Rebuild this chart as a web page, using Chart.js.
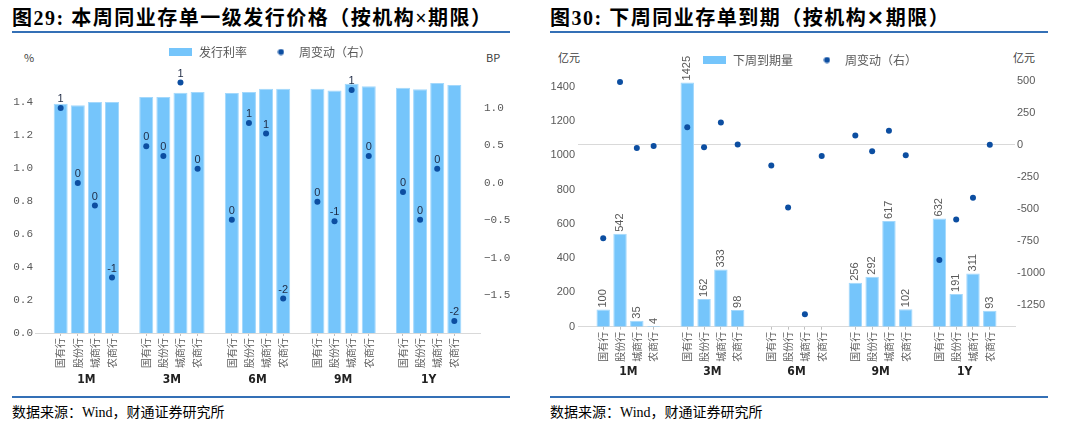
<!DOCTYPE html>
<html>
<head>
<meta charset="utf-8">
<script src="https://cdn.jsdelivr.net/npm/chart.js@4.4.1/dist/chart.umd.min.js"></script>
<style>
  body { margin: 0; width: 1080px; height: 435px; background: #fff; position: relative; overflow: hidden; }
  .title { position: absolute; top: 6px; line-height: 24px; font-family: "Liberation Serif", "Noto Sans CJK SC", serif; font-weight: 700; font-size: 20px; color: #000; letter-spacing: 1.5px; white-space: nowrap; }
  .rule { position: absolute; height: 2px; background: #3470b6; }
  .src { position: absolute; top: 404px; line-height: 18px; font-family: "Liberation Serif", "Noto Sans CJK SC", serif; font-size: 14px; color: #000; white-space: nowrap; }
  .unit { position: absolute; top: 50px; line-height: 14px; font-family: "Noto Sans CJK SC", sans-serif; font-size: 11px; color: #404040; }
  canvas { position: absolute; top: 20px; }
</style>
</head>
<body>
<div class="title" style="left:12px">图29: 本周同业存单一级发行价格（按机构×期限）</div>
<div class="rule" style="left:12px;width:498px;top:31px"></div>
<div class="title" style="left:550px">图30: 下周同业存单到期（按机构✕期限）</div>
<div class="rule" style="left:550px;width:498px;top:31px"></div>

<div class="unit" style="left:24px">%</div>
<div class="unit" style="left:486px">BP</div>
<div class="unit" style="left:558px">亿元</div>
<div class="unit" style="left:1013px">亿元</div>

<canvas id="rateChart" width="540" height="376" style="left:0px"></canvas>
<canvas id="maturityChart" width="540" height="376" style="left:540px"></canvas>

<div class="rule" style="left:12px;width:498px;top:396px"></div>
<div class="src" style="left:12px">数据来源：Wind，财通证券研究所</div>
<div class="rule" style="left:550px;width:498px;top:396px"></div>
<div class="src" style="left:550px">数据来源：Wind，财通证券研究所</div>

<script>
const groups = ['1M', '3M', '6M', '9M', '1Y'];
const banks = ['国有行', '股份行', '城商行', '农商行'];

// 图29 发行利率(%) 和 周变动(BP)
const issueRate = [1.39, 1.38, 1.40, 1.40, 1.43, 1.43, 1.456, 1.46, 1.455, 1.46, 1.48, 1.48, 1.48, 1.47, 1.51, 1.495, 1.487, 1.477, 1.515, 1.503];
const rateChange = [1.0, 0.0, -0.3, -1.26, 0.49, 0.36, 1.34, 0.19, -0.49, 0.8, 0.66, -1.54, -0.25, -0.51, 1.24, 0.36, -0.12, -0.49, 0.19, -1.84];
const rateTicks = [0, 0.2, 0.4, 0.6, 0.8, 1.0, 1.2, 1.4];
const bpTicks = [-1.5, -1.0, -0.5, 0, 0.5, 1.0];

// 图30 下周到期量(亿元) 和 周变动(亿元)
const maturity = [100, 542, 35, 4, 1425, 162, 333, 98, null, null, null, null, 256, 292, 617, 102, 632, 191, 311, 93];
const maturityChange = [-730, 489, -26, -11, 137, -19, 173, 2, -163, -489, -1323, -88, 72, -52, 109, -83, -900, -583, -414, 0];
const amountTicks = [0, 200, 400, 600, 800, 1000, 1200, 1400];
const changeTicks = [-1250, -1000, -750, -500, -250, 0, 250, 500];

const BAR = '#75c5fb';
const DOT = '#0c4ea1';
const GREY = '#595959';

Chart.defaults.font.family = '"Noto Sans CJK SC", sans-serif';
Chart.defaults.color = GREY;

// one empty slot before, between and after the groups
function slots(vals) {
  const out = [null];
  for (let g = 0; g < groups.length; g++) {
    for (let b = 0; b < banks.length; b++) out.push(vals[g * banks.length + b]);
    out.push(null);
  }
  return out;
}
const slotLabels = slots(groups.flatMap(() => banks)).map(v => v || '');
const groupCenters = groups.map((g, i) => 1 + i * (banks.length + 1) + (banks.length - 1) / 2);

function swatch(w, h, draw) {
  const c = document.createElement('canvas');
  c.width = w; c.height = h;
  draw(c.getContext('2d'));
  return c;
}
const barKey = swatch(23, 8, g => { g.fillStyle = BAR; g.fillRect(0, 0, 23, 8); });
const dotKey = swatch(7, 7, g => { g.fillStyle = DOT; g.beginPath(); g.arc(3.5, 3.5, 3, 0, Math.PI * 2); g.fill(); });

function legendLabels(chart) {
  const items = Chart.defaults.plugins.legend.labels.generateLabels(chart);
  items.sort((a, b) => a.datasetIndex - b.datasetIndex);
  items.forEach(it => { it.pointStyle = it.datasetIndex === 0 ? barKey : dotKey; });
  return items;
}

// legend keeps a fixed height so the plot top lands where it should
function legendHeight(h) {
  return {
    id: 'legendHeight',
    afterInit(chart) {
      const lg = chart.legend;
      const fit = lg.fit;
      lg.fit = function () { fit.call(this); this.height = h; };
    }
  };
}

const valueLabels = {
  id: 'valueLabels',
  afterDatasetsDraw(chart) {
    const ctx = chart.ctx;
    chart.data.datasets.forEach((ds, di) => {
      if (!ds.labelMode) return;
      const meta = chart.getDatasetMeta(di);
      meta.data.forEach((el, i) => {
        const v = ds.data[i];
        if (v == null) return;
        ctx.save();
        ctx.font = '11px "Liberation Sans", sans-serif';
        if (ds.labelMode === 'above') {
          ctx.fillStyle = '#1e2a44';
          ctx.textAlign = 'center';
          ctx.textBaseline = 'middle';
          ctx.fillText(String(Math.round(v)), el.x, el.y - 9);
        } else {
          ctx.fillStyle = GREY;
          ctx.translate(el.x, el.y - 2);
          ctx.rotate(-Math.PI / 2);
          ctx.textAlign = 'left';
          ctx.textBaseline = 'middle';
          ctx.fillText(String(v), 0, 0);
        }
        ctx.restore();
      });
    });
  }
};

function fixedTicks(list) {
  return scale => { scale.ticks = list.map(v => ({ value: v })); };
}

function makeChart(id, cfg) {
  return new Chart(document.getElementById(id), {
    type: 'bar',
    data: {
      labels: slotLabels,
      datasets: [{
        label: cfg.barLabel,
        data: slots(cfg.bars),
        backgroundColor: BAR,
        borderColor: '#a3d8fc',
        borderWidth: 1,
        yAxisID: 'y',
        barPercentage: cfg.barPct,
        categoryPercentage: 1,
        order: 2,
        labelMode: cfg.barLabels ? 'vertical' : null
      }, {
        type: 'line',
        label: '周变动（右）',
        data: slots(cfg.dots),
        showLine: false,
        pointRadius: 3,
        pointBorderWidth: 0,
        pointBackgroundColor: DOT,
        borderColor: DOT,
        yAxisID: 'y1',
        order: 1,
        labelMode: cfg.dotLabels ? 'above' : null
      }]
    },
    options: {
      responsive: false,
      animation: false,
      layout: { padding: { top: cfg.padTop, left: 0, right: 0, bottom: 0 } },
      plugins: {
        legend: {
          position: 'top',
          labels: {
            usePointStyle: true,
            pointStyleWidth: 24,
            padding: 22,
            color: GREY,
            font: { size: 12 },
            generateLabels: legendLabels
          }
        },
        tooltip: { enabled: false }
      },
      scales: {
        x: {
          type: 'category',
          position: 'bottom',
          weight: 0,
          afterFit: s => { s.height = cfg.xHeight; },
          border: { display: true, color: '#d9d9d9' },
          grid: {
            drawOnChartArea: false,
            drawTicks: true,
            tickLength: 3,
            offset: false,
            color: c => (slotLabels[c.index] ? '#bfbfbf' : 'rgba(0,0,0,0)')
          },
          ticks: { autoSkip: false, minRotation: 90, maxRotation: 90, padding: 2, color: GREY, font: { size: 10 } }
        },
        x2: {
          type: 'linear',
          position: 'bottom',
          weight: 1,
          offset: false,
          min: -0.5,
          max: slotLabels.length - 0.5,
          afterBuildTicks: fixedTicks(groupCenters),
          afterFit: s => { s.height = cfg.x2Height; },
          grid: { display: false, drawTicks: false, offset: false },
          border: { display: false },
          ticks: {
            autoSkip: false, maxRotation: 0, padding: 2, color: '#222',
            font: { family: '"Liberation Sans Narrow", "DejaVu Sans Condensed", sans-serif', size: 12, weight: 'bold' },
            callback: (v, i) => groups[i]
          }
        },
        y: {
          position: 'left',
          min: cfg.yMin, max: cfg.yMax,
          afterBuildTicks: fixedTicks(cfg.yTicks),
          afterFit: s => { s.width = cfg.yWidth; },
          grid: { display: false, drawTicks: false },
          border: { display: false },
          ticks: { padding: cfg.yPad, color: GREY, font: cfg.tickFont, callback: cfg.yFormat }
        },
        y1: {
          position: 'right',
          min: cfg.y1Min, max: cfg.y1Max,
          afterBuildTicks: fixedTicks(cfg.y1Ticks),
          afterFit: s => { s.width = cfg.y1Width; },
          grid: {
            display: cfg.zeroLine,
            drawTicks: false,
            color: c => (c.tick && c.tick.value === 0 ? '#d9d9d9' : 'rgba(0,0,0,0)')
          },
          border: { display: false },
          ticks: { padding: cfg.y1Pad, color: GREY, font: cfg.tickFont, callback: cfg.y1Format }
        }
      }
    },
    plugins: [legendHeight(cfg.legendH), valueLabels]
  });
}

makeChart('rateChart', {
  barLabel: '发行利率',
  bars: issueRate,
  dots: rateChange,
  barPct: 0.82,
  barLabels: false,
  dotLabels: true,
  padTop: 4,
  legendH: 45,
  xHeight: 38,
  x2Height: 25,
  yMin: 0, yMax: 1.6, yTicks: rateTicks, yWidth: 35, yPad: 2,
  yFormat: v => v.toFixed(1),
  y1Min: -2, y1Max: 1.52, y1Ticks: bpTicks, y1Width: 60, y1Pad: 4,
  y1Format: v => v.toFixed(1).replace('-', '−'),
  zeroLine: false,
  tickFont: { family: '"Liberation Mono", monospace', size: 11 }
});

makeChart('maturityChart', {
  barLabel: '下周到期量',
  bars: maturity,
  dots: maturityChange,
  barPct: 0.8,
  barLabels: true,
  dotLabels: false,
  padTop: 12,
  legendH: 37.6,
  xHeight: 36,
  x2Height: 33.3,
  yMin: 0, yMax: 1500, yTicks: amountTicks, yWidth: 38, yPad: 3,
  yFormat: v => String(v),
  y1Min: -1420, y1Max: 586, y1Ticks: changeTicks, y1Width: 65, y1Pad: 2,
  y1Format: v => String(v),
  zeroLine: true,
  tickFont: { family: '"Liberation Sans", sans-serif', size: 11 }
});
</script>
</body>
</html>
